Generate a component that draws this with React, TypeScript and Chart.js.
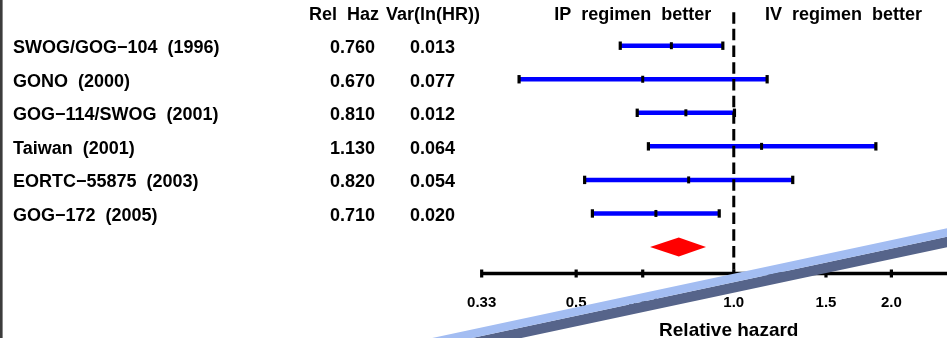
import React, { useEffect, useRef } from "react";
import { Chart, registerables } from "chart.js";

Chart.register(...registerables);

// ---------- data ----------
const studyNames = [
  "SWOG/GOG\u2212104 (1996)",
  "GONO (2000)",
  "GOG\u2212114/SWOG (2001)",
  "Taiwan (2001)",
  "EORTC\u221255875 (2003)",
  "GOG\u2212172 (2005)",
];
const relHazLabels = ["0.760", "0.670", "0.810", "1.130", "0.820", "0.710"];
const varLnHRLabels = ["0.013", "0.077", "0.012", "0.064", "0.054", "0.020"];
const relHaz = [0.76, 0.67, 0.81, 1.13, 0.82, 0.71];
const ciLower = [0.607, 0.389, 0.654, 0.687, 0.519, 0.537];
const ciUpper = [0.953, 1.158, 1.003, 1.868, 1.296, 0.938];
const pooledRow = 6;
const pooledLower = 0.692;
const pooledEstimate = 0.785;
const pooledUpper = 0.885;
const tickValues = [0.33, 0.5, 0.67, 1.0, 1.5, 2.0];
const tickLabels = ["0.33", "0.5", "0.67", "1.0", "1.5", "2.0"];
const headerRelHaz = "Rel Haz";
const headerVar = "Var(ln(HR))";
const leftLabel = "IP regimen better";
const rightLabel = "IV regimen better";
const axisTitle = "Relative hazard";

const FONT = '"Liberation Sans", Arial, Helvetica, sans-serif';
const W = 947;
const H = 338;

const wide = (s: string) => s.replace(/ /g, "  ");

const forestPlugin = {
  id: "forestDecor",
  beforeDatasetsDraw(chart: any) {
    const ctx = chart.ctx;
    const xs = chart.scales.x;
    const ys = chart.scales.y;
    // pooled diamond
    const yc = ys.getPixelForValue(pooledRow);
    const half = Math.abs(ys.getPixelForValue(pooledRow + 0.286) - yc);
    ctx.save();
    ctx.fillStyle = "#ff0000";
    ctx.beginPath();
    ctx.moveTo(xs.getPixelForValue(pooledLower), yc);
    ctx.lineTo(xs.getPixelForValue(pooledEstimate), yc - half);
    ctx.lineTo(xs.getPixelForValue(pooledUpper), yc);
    ctx.lineTo(xs.getPixelForValue(pooledEstimate), yc + half);
    ctx.closePath();
    ctx.fill();
    ctx.restore();
  },
  afterDraw(chart: any) {
    const ctx = chart.ctx;
    const xs = chart.scales.x;
    const ys = chart.scales.y;
    ctx.save();
    ctx.fillStyle = "#000";
    ctx.textBaseline = "middle";

    // left column texts
    ctx.font = `bold 18px ${FONT}`;
    studyNames.forEach((name, i) => {
      const y = ys.getPixelForValue(i) + 2.5;
      ctx.textAlign = "left";
      ctx.fillText(wide(name), 13, y);
      ctx.textAlign = "center";
      ctx.fillText(relHazLabels[i], 352.5, y);
      ctx.fillText(varLnHRLabels[i], 432.5, y);
    });

    // headers
    const yh = ys.getPixelForValue(-0.915);
    ctx.textAlign = "center";
    ctx.fillText(wide(headerRelHaz), 344, yh);
    ctx.fillText(headerVar, 433, yh);
    ctx.fillText(wide(leftLabel), xs.getPixelForValue(0.641), yh);
    ctx.fillText(wide(rightLabel), xs.getPixelForValue(1.62), yh);

    // x axis
    const ya = ys.getPixelForValue(6.79);
    const x0 = xs.getPixelForValue(tickValues[0]);
    ctx.strokeStyle = "#000";
    ctx.lineWidth = 3.5;
    ctx.beginPath();
    ctx.moveTo(x0, ya);
    ctx.lineTo(chart.chartArea.right + 2, ya);
    ctx.stroke();
    const yl = ys.getPixelForValue(7.67);
    ctx.font = `bold 15px ${FONT}`;
    tickValues.forEach((v, i) => {
      const x = xs.getPixelForValue(v);
      ctx.fillRect(x - 1.6, ya - 4, 3.2, 8);
      ctx.fillText(tickLabels[i], x, yl);
    });
    ctx.font = `bold 19px ${FONT}`;
    ctx.fillText(axisTitle, xs.getPixelForValue(1) - 5, ys.getPixelForValue(8.5));

    // left border
    ctx.fillStyle = "#3c3c3c";
    ctx.fillRect(0, 0, 2.6, H);

    // overlay band (decorative pointer across the slide)
    const top = (x: number) => 308 - 0.2131 * (x - 573);
    const mid = (x: number) => top(x) + 8.5;
    const bot = (x: number) => top(x) + 19;
    const xa = 300;
    const xb = 960;
    ctx.fillStyle = "#56648a";
    ctx.beginPath();
    ctx.moveTo(xa, mid(xa));
    ctx.lineTo(xb, mid(xb));
    ctx.lineTo(xb, bot(xb));
    ctx.lineTo(xa, bot(xa));
    ctx.closePath();
    ctx.fill();
    ctx.fillStyle = "#a3bdf2";
    ctx.beginPath();
    ctx.moveTo(xa, top(xa));
    ctx.lineTo(xb, top(xb));
    ctx.lineTo(xb, mid(xb));
    ctx.lineTo(xa, mid(xa));
    ctx.closePath();
    ctx.fill();
    ctx.restore();
  },
};

export default function App() {
  const ref = useRef<HTMLCanvasElement | null>(null);
  useEffect(() => {
    document.body.style.margin = "0";
    if (!ref.current) return;
    const capPoints: any[] = [];
    const centerPoints: any[] = [];
    const ciSets: any[] = [];
    relHaz.forEach((hr, i) => {
      capPoints.push({ x: ciLower[i], y: i }, { x: ciUpper[i], y: i });
      centerPoints.push({ x: hr, y: i });
      ciSets.push({
        data: [
          { x: ciLower[i], y: i },
          { x: ciUpper[i], y: i },
        ],
        showLine: true,
        borderColor: "#0000ff",
        borderWidth: 4.5,
        pointRadius: 0,
        borderCapStyle: "butt",
      });
    });
    const chart = new Chart(ref.current, {
      type: "scatter",
      data: {
        datasets: [
          {
            data: [
              { x: 1, y: -1.0 },
              { x: 1, y: 6.68 },
            ],
            showLine: true,
            borderColor: "#000",
            borderWidth: 3,
            borderDash: [11.5, 5.2],
            pointRadius: 0,
          },
          {
            data: capPoints,
            pointStyle: "line",
            rotation: 90,
            pointRadius: 4.2,
            borderColor: "#000",
            borderWidth: 3.2,
          },
          {
            data: centerPoints,
            pointStyle: "line",
            rotation: 90,
            pointRadius: 3.5,
            borderColor: "#000",
            borderWidth: 3,
          },
          ...ciSets,
        ] as any,
      },
      options: {
        animation: false,
        responsive: false,
        maintainAspectRatio: false,
        layout: { autoPadding: false, padding: { left: 460, right: 0, top: 0, bottom: 0 } },
        plugins: { legend: { display: false }, tooltip: { enabled: false } },
        scales: {
          x: { type: "logarithmic", min: 0.33, max: 2.554, display: false },
          y: { type: "linear", min: -1.362, max: 8.712, reverse: true, display: false },
        },
      },
      plugins: [forestPlugin],
    });
    return () => chart.destroy();
  }, []);
  return (
    <div style={{ width: W, height: H, background: "#fff" }}>
      <canvas ref={ref} width={W} height={H} style={{ display: "block" }} />
    </div>
  );
}
